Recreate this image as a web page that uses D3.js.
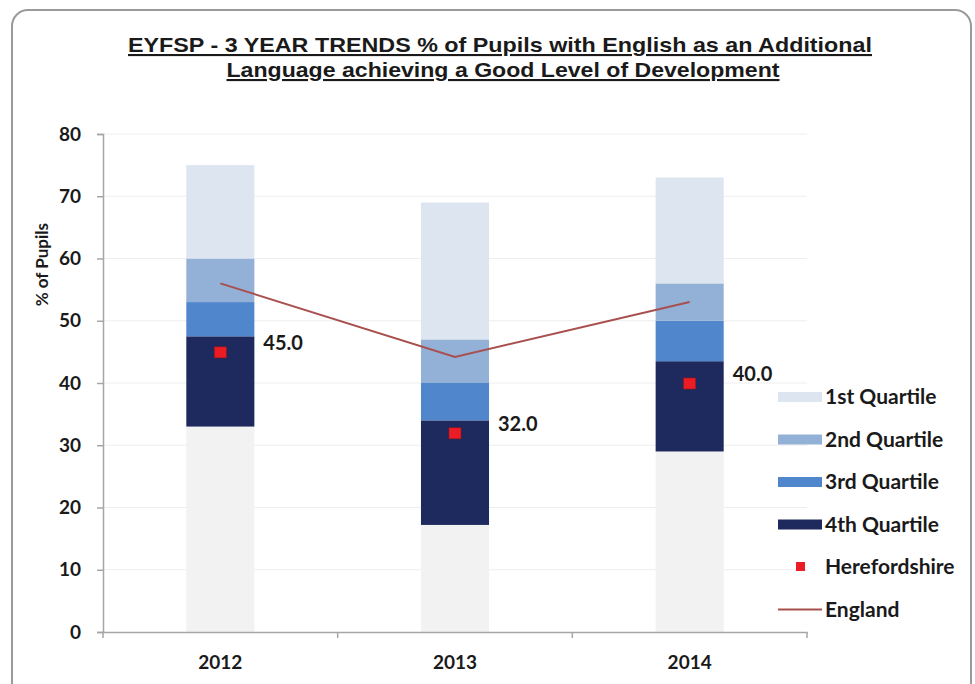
<!DOCTYPE html>
<html>
<head>
<meta charset="utf-8">
<script src="https://cdn.jsdelivr.net/npm/d3@7"></script>
<style>
  body { margin: 0; background: #fff; }
  text { font-family: Lato, "Open Sans", sans-serif; }
</style>
</head>
<body>
<div id="chart"></div>
<script>
// chart values
const years = ["2012", "2013", "2014"];
const baseGap = [33, 17.2, 29];          // blank part under the quartiles (lowest 4th quartile value)
const q4Top = [47.5, 34, 43.5];
const q3Top = [53, 40, 50];
const q2Top = [60, 47, 56];
const q1Top = [75, 69, 73];
const herefordshire = [45.0, 32.0, 40.0];
const england = [56, 44.2, 53];
const yTicks = [0, 10, 20, 30, 40, 50, 60, 70, 80];
const legendLabels = ["1st Quartile", "2nd Quartile", "3rd Quartile", "4th Quartile", "Herefordshire", "England"];

const chart = { width: 975, height: 684, margin: { top: 134, right: 168, bottom: 52, left: 103 } };
chart.innerWidth = chart.width - chart.margin.left - chart.margin.right;
chart.innerHeight = chart.height - chart.margin.top - chart.margin.bottom;

const colors = {
    base: "#f2f2f2",
    q1: "#dce5f0",
    q2: "#93b0d6",
    q3: "#4f86cc",
    q4: "#1e2a5e",
    hfd: "#ec1c24",
    eng: "#a8504e"
};

const svg = d3.select("#chart")
    .append("svg")
    .attr("width", chart.width)
    .attr("height", chart.height);

// outer rounded frame
svg.append("rect")
    .attr("x", 12).attr("y", 10)
    .attr("width", 959).attr("height", 700)
    .attr("rx", 16)
    .attr("fill", "#fff")
    .attr("stroke", "#9a9a9a")
    .attr("stroke-width", 2);

// title, two underlined lines
const title = svg.append("text")
    .attr("text-anchor", "middle")
    .style("font-family", "'Liberation Sans', Arial, sans-serif")
    .style("font-weight", "bold")
    .style("font-size", "21px")
    .style("text-decoration", "underline")
    .attr("fill", "#1a1a1a");
title.append("tspan").attr("x", 500).attr("y", 52)
    .attr("textLength", 744).attr("lengthAdjust", "spacingAndGlyphs")
    .text("EYFSP - 3 YEAR TRENDS % of Pupils with English as an Additional");
title.append("tspan").attr("x", 503).attr("y", 77)
    .attr("textLength", 553).attr("lengthAdjust", "spacingAndGlyphs")
    .text("Language achieving a Good Level of Development");

const g = svg.append("g")
    .attr("transform", `translate(${chart.margin.left}, ${chart.margin.top})`);

const x = d3.scaleBand().domain(years).range([0, chart.innerWidth]).paddingInner(0.71).paddingOuter(0.355);
const y = d3.scaleLinear().domain([0, 80]).range([chart.innerHeight, 0]);

// faint gridlines
g.append("g")
    .selectAll("line")
    .data(yTicks.slice(1))
    .join("line")
    .attr("x1", 0).attr("x2", chart.innerWidth)
    .attr("y1", d => y(d)).attr("y2", d => y(d))
    .attr("stroke", "#eeeeee")
    .attr("stroke-width", 1);

// stacked segments built from the arrays
const segments = [];
years.forEach((yr, i) => {
    segments.push({ yr, lo: 0, hi: baseGap[i], fill: colors.base });
    segments.push({ yr, lo: baseGap[i], hi: q4Top[i], fill: colors.q4 });
    segments.push({ yr, lo: q4Top[i], hi: q3Top[i], fill: colors.q3 });
    segments.push({ yr, lo: q3Top[i], hi: q2Top[i], fill: colors.q2 });
    segments.push({ yr, lo: q2Top[i], hi: q1Top[i], fill: colors.q1 });
});

g.append("g")
    .selectAll("rect")
    .data(segments)
    .join("rect")
    .attr("x", d => x(d.yr))
    .attr("width", x.bandwidth())
    .attr("y", d => y(d.hi))
    .attr("height", d => y(d.lo) - y(d.hi))
    .attr("fill", d => d.fill);

// England line
const line = d3.line()
    .x((d, i) => x(years[i]) + x.bandwidth() / 2)
    .y(d => y(d));
g.append("path")
    .datum(england)
    .attr("d", line)
    .attr("fill", "none")
    .attr("stroke", colors.eng)
    .attr("stroke-width", 2);

// Herefordshire markers
g.append("g")
    .selectAll("rect")
    .data(herefordshire)
    .join("rect")
    .attr("x", (d, i) => x(years[i]) + x.bandwidth() / 2 - 6)
    .attr("y", d => y(d) - 5)
    .attr("width", 12)
    .attr("height", 11)
    .attr("fill", colors.hfd)
    .attr("stroke", "#a0141a")
    .attr("stroke-width", 0.6);

// value labels beside the bars
g.append("g")
    .selectAll("text")
    .data(herefordshire)
    .join("text")
    .attr("x", (d, i) => x(years[i]) + x.bandwidth() + 9)
    .attr("y", d => y(d) - 9)
    .attr("dy", "0.35em")
    .style("font-weight", "bold")
    .style("font-size", "20px")
    .attr("fill", "#1a1a1a")
    .text(d => d.toFixed(1));

// axes
const yAxis = g.append("g")
    .call(d3.axisLeft(y).tickValues(yTicks).tickSize(6).tickPadding(16));
const xAxis = g.append("g")
    .attr("transform", `translate(0, ${chart.innerHeight})`)
    .call(d3.axisBottom(x).tickSize(0).tickPadding(24));

[yAxis, xAxis].forEach(ax => {
    ax.select(".domain").attr("stroke", "#a6a6a6").attr("stroke-width", 1.5);
    ax.selectAll(".tick line").attr("stroke", "#a6a6a6").attr("stroke-width", 1.5);
    ax.selectAll("text")
        .style("font-family", "Lato, 'Open Sans', sans-serif")
        .style("font-weight", "bold")
        .style("font-size", "19px")
        .attr("fill", "#1a1a1a");
});

// x axis category separators
xAxis.append("g")
    .selectAll("line")
    .data([0, 1, 2, 3])
    .join("line")
    .attr("x1", d => d * x.step()).attr("x2", d => d * x.step())
    .attr("y1", 0).attr("y2", 6)
    .attr("stroke", "#a6a6a6").attr("stroke-width", 1.5);

// y axis title
g.append("text")
    .attr("transform", `translate(-61, ${y(59)}) rotate(-90)`)
    .attr("text-anchor", "middle")
    .attr("dy", "0.35em")
    .style("font-weight", "bold")
    .style("font-size", "17px")
    .attr("fill", "#1a1a1a")
    .text("% of Pupils");

// legend
const legend = svg.append("g").attr("transform", "translate(778, 397)");
const legendFills = [colors.q1, colors.q2, colors.q3, colors.q4];
const rowGap = 42.5;
legendLabels.forEach((lab, i) => {
    const row = legend.append("g").attr("transform", `translate(0, ${i * rowGap})`);
    if (i < 4) {
        row.append("rect").attr("x", 0).attr("y", -5).attr("width", 44).attr("height", 10)
            .attr("fill", legendFills[i]);
    } else if (i === 4) {
        row.append("rect").attr("x", 18).attr("y", -5).attr("width", 9).attr("height", 9)
            .attr("fill", colors.hfd);
    } else {
        row.append("line").attr("x1", 0).attr("x2", 44).attr("y1", 0).attr("y2", 0)
            .attr("stroke", colors.eng).attr("stroke-width", 2);
    }
    row.append("text")
        .attr("x", 47)
        .attr("dy", "0.35em")
        .style("font-weight", "bold")
        .style("font-size", "21px")
        .attr("fill", "#1a1a1a")
        .text(lab);
});
</script>
</body>
</html>
